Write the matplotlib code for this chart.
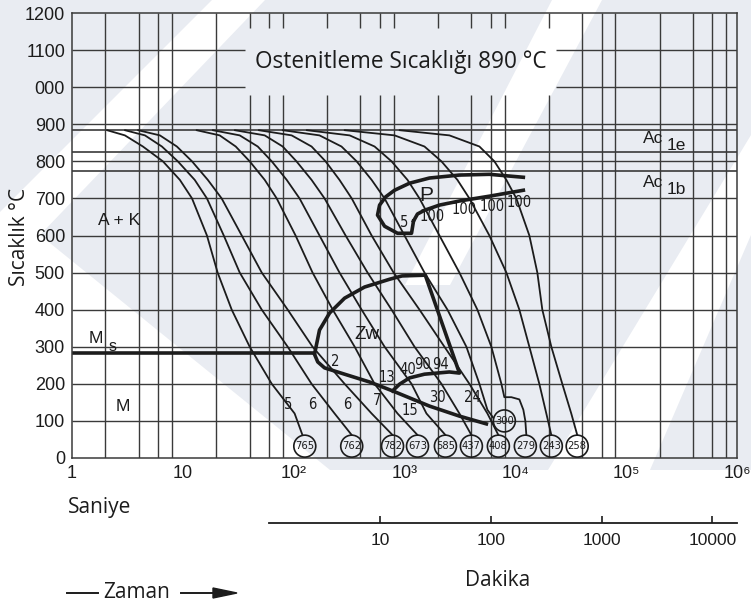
import matplotlib.pyplot as plt
from matplotlib.patches import Polygon
from matplotlib import font_manager

# cooling curves, time in seconds vs temperature in degC
std_T = [884, 870, 840, 800, 750, 700, 600, 500, 400, 300, 200, 120, 62]
c1_t = [2.07, 3.00, 4.36, 6.61, 9.40, 12.1, 16.5, 20.6, 27.6, 40.1, 63.4, 102, 120]
c2_t = [3.00, 4.55, 6.47, 9.01, 12.8, 16.5, 23.4, 32.6, 51.5, 88.3, 145, 234, 334]
c3_t = [3.94, 6.21, 8.83, 12.1, 16.8, 22.4, 34.0, 51.5, 88.3, 148, 288, 505, 780]
c4_t = [13.3, 21.5, 30.0, 40.1, 54.8, 70.3, 104, 148, 225, 355, 537, 865, 1310]
c5_t = [18.6, 32.6, 47.4, 63.4, 86.5, 113, 171, 259, 410, 661, 1157, 1578, 2340]
c6_t = [29.4, 54.8, 79.6, 106, 145, 190, 294, 464, 764, 1231, 2154, 3128, 4013]
c7_t = [48.4, 95.9, 145, 194, 259, 334, 505, 797, 1365, 2292, 3850, 5600, 7030]
c8_t = [79.6, 171, 270, 370, 505, 661, 1000, 1514, 2440, 3617, 4740, 5600, 6335]
c8_T = [884, 870, 840, 800, 750, 700, 600, 500, 400, 300, 200, 130, 108]
c9_t = [131, 320, 537, 764, 1064, 1365, 2066, 3128, 4545, 6077, 7485, 7960,
        9205, 10870, 11810, 12310, 12570]
c9_T = [884, 870, 840, 800, 750, 700, 600, 500, 400, 300, 200, 164,
        164, 158, 130, 100, 62]
c10_t = [288, 813, 1514, 2154, 3001, 3850, 5830, 8298, 10870, 13380, 16460, 19035, 21120]
c11_t = [902, 2542, 4740, 6470, 8298, 10215, 13380, 15794, 17518, 21120, 26520, 31960, 36197]

curves = [(c1_t, std_T), (c2_t, std_T), (c3_t, std_T), (c4_t, std_T), (c5_t, std_T),
          (c6_t, std_T), (c7_t, std_T), (c8_t, c8_T), (c9_t, c9_T),
          (c10_t, std_T), (c11_t, std_T)]

# hardness values (HV) at the end of each curve
hv_labels = ['765', '762', '782', '673', '585', '437', '408', '279', '243', '258']
hv_t = [126, 334, 780, 1310, 2340, 4013, 7030, 12310, 21120, 36150]
hv_T = 32
hv_extra = ('300', 7960, 100)

# transformation regions
ms_T = 283
ms_t_end = 155
zw_upper_t = [155, 171, 211, 288, 436, 733, 951, 1540, 3130, 2540, 1514, 1110, 902, 780]
zw_upper_T = [283, 345, 391, 431, 461, 482, 491, 493, 229, 232, 226, 216, 199, 181]
zw_lower_t = [155, 165, 190, 288, 484, 780, 1680, 3128, 5480]
zw_lower_T = [278, 259, 243, 226, 205, 181, 140, 113, 92]
p_outer_t = [1206, 1157, 865, 661, 571, 596, 675, 813, 1110, 1680, 3128, 5830, 11810]
p_outer_T = [639, 606, 606, 625, 655, 682, 704, 722, 741, 755, 763, 765, 757]
p_inner_t = [1206, 1310, 1514, 2066, 3128, 5830, 11810]
p_inner_T = [639, 658, 668, 682, 693, 706, 722]

# percentages written along the curves
pct_labels = ['5', '6', '6', '7', '15', '30', '24', '2', '13', '40', '90', '94',
              '5', '100', '100', '100', '100']
pct_t = [88.3, 148, 306, 560, 1110, 1982, 4100, 239, 689, 1065, 1452, 2110,
         1000, 1787, 3470, 6210, 10870]
pct_T = [143, 143, 143, 156, 129, 162, 162, 259, 216, 240, 251, 253,
         636, 652, 671, 677, 690]

austenite_T = 885
ac1e_T = 825
ac1b_T = 775
y_ticks = list(range(0, 1201, 100))
y_ticklabels = ['0', '100', '200', '300', '400', '500', '600', '700', '800', '900',
                '000', '1100', '1200']
x_ticks = [1, 10, 1e2, 1e3, 1e4, 1e5, 1e6]
x_ticklabels = ['1', '10', '10²', '10³', '10⁴', '10⁵', '10⁶']
min_ticks = [10, 100, 1000, 10000]

names = {f.name for f in font_manager.fontManager.ttflist}
NARROW = ['Liberation Sans Narrow'] if 'Liberation Sans Narrow' in names else ['DejaVu Sans']
SANS = ['Liberation Sans', 'DejaVu Sans']
HUM = ['Open Sans', 'DejaVu Sans']
INK = '#1c1c1c'
GRID = '#3a3a3a'
WASH = '#e9ecf2'

W, H = 751, 608
fig = plt.figure(figsize=(W / 100, H / 100), dpi=100)
bg = fig.add_axes([0, 0, 1, 1])
bg.set_xlim(0, W)
bg.set_ylim(H, 0)
bg.axis('off')

# faint background wash with lighter diagonal bands
bg.add_patch(Polygon([[0, 0], [W, 0], [W, 470], [0, 470]], closed=True, color=WASH, lw=0))
for band in ([[212, 0], [265, 0], [40, 235], [330, 470], [0, 470], [0, 212]],
             [[552, 0], [602, 0], [450, 285], [405, 285]],
             [[W, 135], [W, 235], [650, 470], [548, 470]]):
    bg.add_patch(Polygon(band, closed=True, color='white', lw=0))

ax = fig.add_axes([72 / W, 1 - 458 / H, 665 / W, 445 / H])
ax.patch.set_alpha(0)
ax.set_xscale('log')
ax.set_xlim(1, 1e6)
ax.set_ylim(0, 1200)

# grid, broken behind the heading
box_t = (36.2, 23400)
box_T = (978, 1160)
for T in range(100, 1200, 100):
    if T in (1000, 1100):
        ax.hlines(T, 1, box_t[0], color=GRID, lw=1.0)
        ax.hlines(T, box_t[1], 1e6, color=GRID, lw=1.0)
    else:
        ax.hlines(T, 1, 1e6, color=GRID, lw=1.0)
for k in range(6):
    for m in (2, 4, 6, 8):
        t = m * 10 ** k
        if box_t[0] < t < box_t[1]:
            ax.vlines(t, 0, box_T[0], color=GRID, lw=1.0)
            ax.vlines(t, box_T[1], 1200, color=GRID, lw=1.0)
        else:
            ax.vlines(t, 0, 1200, color=GRID, lw=1.0)
for T in (austenite_T, ac1e_T, ac1b_T):
    ax.hlines(T, 1, 1e6, color=GRID, lw=1.2)

for t, T in curves:
    ax.plot(t, T, color=INK, lw=1.3, solid_capstyle='round', solid_joinstyle='round')

ax.hlines(ms_T, 1, ms_t_end, color=INK, lw=2.6)
ax.plot(zw_upper_t, zw_upper_T, color=INK, lw=2.6, solid_joinstyle='round')
ax.plot(zw_lower_t, zw_lower_T, color=INK, lw=2.6, solid_joinstyle='round')
ax.plot(p_outer_t, p_outer_T, color=INK, lw=2.6, solid_joinstyle='round')
ax.plot(p_inner_t, p_inner_T, color=INK, lw=2.6, solid_joinstyle='round')

ax.scatter(hv_t, [hv_T] * len(hv_t), s=250, facecolors='none', edgecolors=INK, lw=1.2, zorder=3)
ax.scatter([hv_extra[1]], [hv_extra[2]], s=250, facecolors='none', edgecolors=INK, lw=1.2, zorder=3)
for lab, t in zip(hv_labels, hv_t):
    ax.text(t, hv_T, lab, ha='center', va='center', fontsize=8, family=NARROW,
            fontstretch='condensed', color=INK)
ax.text(hv_extra[1], hv_extra[2], hv_extra[0], ha='center', va='center', fontsize=8,
        family=NARROW, fontstretch='condensed', color=INK)

for lab, t, T in zip(pct_labels, pct_t, pct_T):
    ax.text(t, T, lab, ha='center', va='center', fontsize=10.5, family=NARROW,
            fontstretch='condensed', color=INK)

ax.text(2.65, 641, 'A + K', ha='center', va='center', fontsize=12.5, family=SANS, color=INK)
ax.text(2.88, 140, 'M', ha='center', va='center', fontsize=12.5, family=SANS, color=INK)
ax.text(1.65, 323, 'M', ha='center', va='center', fontsize=12.5, family=SANS, color=INK)
ax.text(2.3, 300, 's', ha='center', va='center', fontsize=11.5, family=SANS, color=INK)
ax.text(455, 332, 'Zw', ha='center', va='center', fontsize=13.5, family=SANS, color=INK)
ax.text(1580, 709, 'P', ha='center', va='center', fontsize=15, family=SANS, color=INK)
ax.text(175000, 862, 'Ac', ha='center', va='center', fontsize=12.5, family=SANS, color=INK)
ax.text(282000, 844, '1e', ha='center', va='center', fontsize=12.5, family=SANS, color=INK)
ax.text(175000, 744, 'Ac', ha='center', va='center', fontsize=12.5, family=SANS, color=INK)
ax.text(282000, 725, '1b', ha='center', va='center', fontsize=12.5, family=SANS, color=INK)

ax.text(0.495, 0.89, 'Ostenitleme Sıcaklığı 890 °C', transform=ax.transAxes,
        ha='center', va='center', fontsize=16.3, family=HUM, color=INK)

for s in ax.spines.values():
    s.set_color(GRID)
    s.set_linewidth(1.1)
ax.set_yticks(y_ticks)
ax.set_yticklabels(y_ticklabels, family=SANS, fontsize=13, color=INK)
ax.set_xticks(x_ticks)
ax.set_xticklabels(x_ticklabels, family=SANS, fontsize=13, color=INK)
ax.minorticks_off()
ax.tick_params(length=0, pad=5)

# minutes scale under the seconds axis
axm = fig.add_axes([72 / W, 1 - 523 / H, 665 / W, 0.0001])
axm.patch.set_alpha(0)
axm.set_xscale('log')
axm.set_xlim(1 / 60, 1e6 / 60)
for side in ('top', 'left', 'right'):
    axm.spines[side].set_visible(False)
axm.spines['bottom'].set_bounds(1, 1e6 / 60)
axm.spines['bottom'].set_color(INK)
axm.spines['bottom'].set_linewidth(1.3)
axm.set_yticks([])
axm.set_xticks(min_ticks)
axm.set_xticklabels([str(v) for v in min_ticks], family=SANS, fontsize=12.5, color=INK)
axm.minorticks_off()
axm.tick_params(axis='x', direction='in', length=5, width=1.2, pad=7, color=INK)

bg.text(20, 237, 'Sıcaklık °C', rotation=90, ha='center', va='center', fontsize=15,
        family=HUM, color=INK)
bg.text(68, 508, 'Saniye', ha='left', va='center', fontsize=15, family=HUM, color=INK)
bg.text(498, 580, 'Dakika', ha='center', va='center', fontsize=15, family=HUM, color=INK)
bg.text(103, 593, 'Zaman', ha='left', va='center', fontsize=15, family=HUM, color=INK)
bg.plot([67, 98], [593, 593], color=INK, lw=1.4)
bg.plot([181, 215], [593, 593], color=INK, lw=1.4)
bg.add_patch(Polygon([[213, 588], [237, 593], [213, 598]], closed=True, color=INK))

fig.savefig('out.png', dpi=100)
